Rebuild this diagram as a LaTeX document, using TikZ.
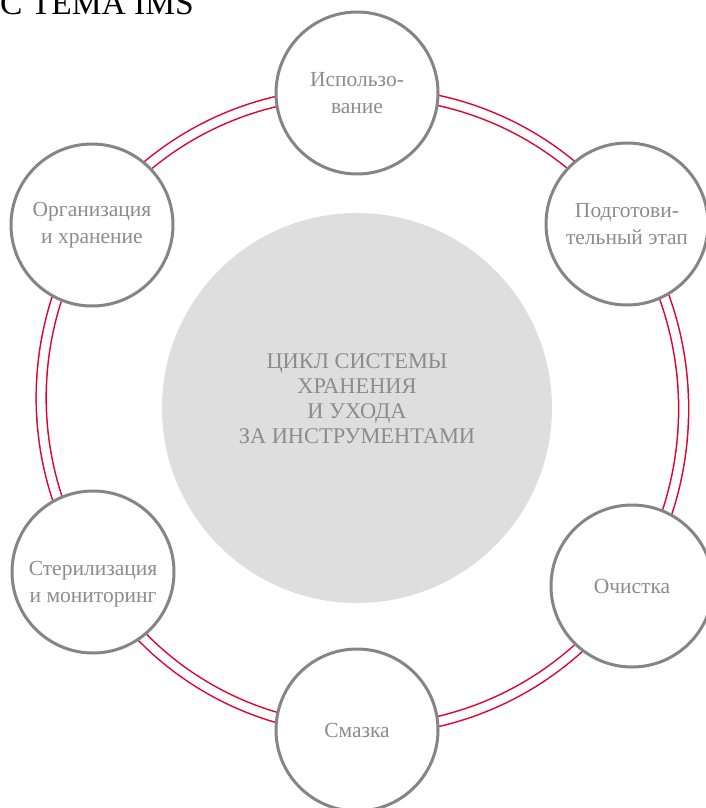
\documentclass[tikz,border=0pt]{standalone}
\usepackage{fontspec}
\setmainfont{Liberation Serif}
\usetikzlibrary{backgrounds}
\definecolor{ringred}{RGB}{226,0,45}
\definecolor{bordergray}{RGB}{133,133,133}
\definecolor{textgray}{RGB}{140,140,140}
\definecolor{hubfill}{RGB}{221,222,221}
\begin{document}
\begin{tikzpicture}[x=1pt,y=-1pt,
 stagefont/.style={align=center, text=textgray, font=\fontsize{21.5}{27}\selectfont},
 stage/.style={circle, draw=bordergray, line width=3pt, fill=white, minimum size=162pt, inner sep=0pt, stagefont},
 hub/.style={circle, fill=hubfill, minimum size=390pt, inner sep=0pt},
 hubtext/.style={align=center, text=textgray, font=\fontsize{22.4}{25}\selectfont, inner sep=0pt},
 link/.style={draw=ringred, line width=1.5pt, double=white, double distance=8.5pt, looseness=0.92},
 titletext/.style={anchor=base west, font=\fontsize{33.5}{33.5}\selectfont, inner sep=0pt}]
\useasboundingbox (0,0) rectangle (705,808);
\node[titletext] (title) at (0,15) {С ТЕМА IMS};
\node[hub] (hub) at (357,408) {};
\node[hubtext] (hubtext) at (357,399) {ЦИКЛ СИСТЕМЫ\\ХРАНЕНИЯ\\И УХОДА\\ЗА ИНСТРУМЕНТАМИ};
\node[stage] (use) at (357,93) {Использо-\\вание};
\node[stage] (prep) at (627,224) {Подготови-\\тельный этап};
\node[stage] (clean) at (632,586) {Очистка};
\node[stage] (lube) at (357,730) {Смазка};
\node[stage, label={[stagefont, yshift=-12pt]center:{Стерилизация\\и мониторинг}}] (steril) at (93,572) {};
\node[stage] (store) at (92,225) {Организация\\и хранение};
\begin{pgfonlayer}{background}
\draw[link] (use.center) to[bend left=27.7] (prep.center);
\draw[link] (prep.center) to[bend left=33.6] (clean.center);
\draw[link] (clean.center) to[bend left=28.7] (lube.center);
\draw[link] (lube.center) to[bend left=29.3] (steril.center);
\draw[link] (steril.center) to[bend left=33.2] (store.center);
\draw[link] (store.center) to[bend left=27.5] (use.center);
\end{pgfonlayer}
\end{tikzpicture}
\end{document}
